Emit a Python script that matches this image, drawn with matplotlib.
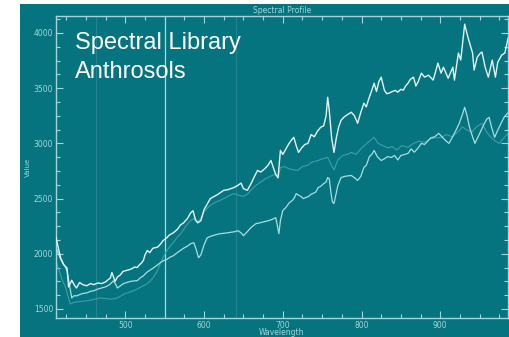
import matplotlib
matplotlib.use('Agg')
import matplotlib.pyplot as plt
from matplotlib.patches import Rectangle
from matplotlib.ticker import MultipleLocator

# spectra (wavelength, value)
wl_a = [412, 415, 418, 422, 426, 428, 432, 435, 438, 442, 446, 451, 456, 460, 465, 470, 475, 479, 481, 483,
        485, 487, 490, 494, 497, 502, 507, 512, 515, 518, 521, 523, 525, 528, 531, 535, 541, 545, 548, 552,
        556, 561, 566, 570, 574, 579, 583, 586, 589, 592, 596, 600, 604, 608, 613, 618, 622, 625, 630, 634,
        638, 643, 647, 650, 655, 660, 664, 668, 672, 677, 681, 685, 688, 691, 694, 697, 700, 704, 708, 711,
        714, 717, 720, 724, 728, 732, 736, 740, 744, 748, 752, 755, 757, 759, 762, 765, 768, 771, 774, 778,
        782, 787, 791, 795, 799, 803, 806, 809, 813, 816, 819, 822, 825, 829, 832, 835, 839, 843, 846, 850,
        853, 856, 859, 862, 866, 869, 872, 876, 880, 885, 891, 897, 901, 904, 910, 916, 918, 923, 926, 931,
        935, 941, 943, 947, 951, 953, 957, 961, 966, 970, 973, 978, 982, 986, 990]
val_a = [2150, 2050, 1960, 1900, 1870, 1700, 1760, 1720, 1690, 1740, 1720, 1710, 1730, 1720, 1735, 1730, 1745, 1770, 1780, 1830,
         1790, 1750, 1790, 1810, 1840, 1850, 1860, 1880, 1875, 1900, 1920, 1940, 1990, 2030, 2010, 2050, 2060, 2090, 2120, 2140,
         2170, 2190, 2220, 2260, 2280, 2320, 2370, 2390, 2310, 2280, 2300, 2400, 2450, 2500, 2520, 2540, 2560, 2575, 2580, 2590,
         2600, 2620, 2640, 2590, 2575, 2640, 2700, 2755, 2740, 2770, 2800, 2845, 2780, 2720, 2690, 2936, 2900, 2950, 3000, 3030,
         3055, 2980, 2918, 2960, 2990, 3000, 3080, 3060, 3110, 3145, 3160, 3250, 3418, 3300, 3050, 2918, 3050, 3150, 3209, 3240,
         3260, 3282, 3250, 3182, 3280, 3364, 3330, 3400, 3480, 3545, 3470, 3560, 3600, 3482, 3450, 3455, 3470, 3480, 3464, 3490,
         3482, 3520, 3545, 3580, 3600, 3520, 3560, 3636, 3600, 3618, 3573, 3727, 3636, 3690, 3590, 3690, 3573, 3818, 3755, 4080,
         3964, 3818, 3664, 3782, 3818, 3827, 3690, 3600, 3755, 3600, 3736, 3800, 3818, 3950, 4000]

wl_b = [412, 415, 418, 421, 424, 426, 428, 430, 432, 435, 438, 442, 446, 451, 456, 460, 465, 470, 475, 480,
        485, 488, 490, 494, 497, 502, 507, 512, 515, 519, 523, 527, 531, 536, 541, 545, 548, 553, 557, 561,
        566, 570, 574, 579, 583, 587, 590, 593, 596, 600, 604, 609, 614, 619, 625, 630, 635, 639, 643, 647,
        650, 655, 660, 666, 671, 676, 682, 686, 689, 691, 693, 695, 697, 700, 704, 708, 712, 715, 717, 720,
        723, 726, 729, 733, 736, 738, 742, 745, 748, 752, 755, 757, 759, 761, 763, 765, 767, 770, 774, 778,
        782, 787, 791, 795, 799, 803, 806, 810, 813, 816, 820, 825, 829, 833, 838, 842, 846, 850, 855, 859,
        863, 867, 872, 876, 880, 884, 888, 893, 898, 902, 906, 911, 915, 920, 924, 928, 931, 934, 937, 941,
        944, 948, 952, 956, 959, 962, 965, 969, 973, 977, 981, 985, 990]
val_b = [2055, 2000, 1950, 1909, 1880, 1845, 1760, 1680, 1600, 1620, 1618, 1630, 1640, 1645, 1660, 1665, 1680, 1690, 1700, 1720,
         1755, 1720, 1690, 1710, 1727, 1740, 1750, 1755, 1755, 1782, 1800, 1830, 1850, 1873, 1900, 1920, 1936, 1950, 1970, 1982,
         2010, 2030, 2050, 2070, 2091, 2100, 2040, 1964, 1990, 2080, 2145, 2160, 2170, 2180, 2185, 2190, 2195, 2200, 2209, 2190,
         2164, 2200, 2240, 2273, 2280, 2290, 2300, 2310, 2320, 2327, 2260, 2182, 2300, 2391, 2420, 2460, 2482, 2510, 2545, 2530,
         2520, 2500, 2509, 2520, 2540, 2545, 2560, 2600, 2610, 2636, 2650, 2690, 2680, 2560, 2470, 2455, 2520, 2620, 2690, 2700,
         2705, 2709, 2690, 2664, 2700, 2782, 2800, 2880, 2900, 2936, 2880, 2845, 2860, 2880, 2873, 2890, 2850, 2890, 2900, 2909,
         2950, 2920, 2960, 3000, 2990, 3020, 3050, 3060, 3091, 3060, 3030, 3000, 3050, 3120, 3180, 3260, 3327, 3250, 3150, 3060,
         3000, 3060, 3120, 3180, 3220, 3236, 3150, 3055, 3120, 3180, 3236, 3270, 3300]

wl_c = [412, 416, 420, 424, 427, 430, 435, 440, 446, 451, 456, 462, 468, 474, 480, 485, 490, 495, 500, 505,
        510, 515, 520, 526, 532, 537, 541, 545, 548, 552, 557, 562, 566, 570, 575, 579, 583, 587, 590, 594,
        600, 605, 610, 616, 622, 628, 633, 638, 642, 646, 650, 655, 660, 666, 672, 678, 684, 690, 694, 697,
        702, 708, 714, 719, 725, 731, 737, 743, 750, 757, 762, 765, 770, 776, 782, 787, 793, 799, 805, 810,
        816, 821, 827, 833, 839, 845, 851, 859, 866, 873, 880, 887, 894, 901, 908, 915, 922, 928, 934, 940,
        946, 953, 959, 965, 970, 975, 981, 987, 990]
val_c = [1936, 1850, 1760, 1700, 1620, 1545, 1560, 1565, 1570, 1573, 1580, 1590, 1600, 1595, 1590, 1590, 1600, 1620, 1640, 1650,
         1664, 1680, 1700, 1720, 1755, 1800, 1850, 1920, 1964, 2020, 2070, 2110, 2150, 2180, 2230, 2270, 2300, 2320, 2290, 2300,
         2380, 2420, 2450, 2470, 2490, 2510, 2530, 2545, 2535, 2527, 2520, 2540, 2580, 2620, 2650, 2680, 2700, 2720, 2680, 2782,
         2790, 2770, 2760, 2755, 2790, 2800, 2830, 2840, 2860, 2873, 2800, 2760, 2850, 2890, 2900, 2918, 2900, 2950, 2990, 3020,
         3055, 3000, 2980, 2960, 2970, 2940, 2980, 2964, 3000, 3020, 3010, 3040, 3050, 3055, 3080, 3060, 3100, 3150, 3120, 3100,
         3150, 3182, 3100, 3050, 3020, 3000, 3050, 3100, 3120]

cursor_wl = 550
band_wl = [463, 640]

teal = '#06747f'
axis_col = '#a3d6da'

fig = plt.figure(figsize=(5.1, 3.37), dpi=100)
fig.patch.set_facecolor('white')
# teal panel behind everything
fig.patches.append(Rectangle((20 / 510, 0), 490 / 510, 333 / 337, transform=fig.transFigure,
                             facecolor=teal, edgecolor='none', zorder=-10))

ax = fig.add_axes([56 / 510, 19 / 337, 452 / 510, 302 / 337])
ax.set_facecolor(teal)

for w in band_wl:
    ax.axvline(w, color='#23848e', lw=0.8, zorder=1)
ax.axvline(cursor_wl, color='#a8dade', lw=0.9, zorder=1)

ax.plot(wl_c, val_c, color='#3f9ea8', lw=0.8, zorder=2)
ax.plot(wl_b, val_b, color='#a8dde1', lw=0.9, zorder=3)
ax.plot(wl_a, val_a, color='#e4f3f3', lw=1.0, zorder=4)

ax.set_xlim(412, 986)
ax.set_ylim(1418, 4154)

ax.xaxis.set_major_locator(MultipleLocator(100))
ax.xaxis.set_minor_locator(MultipleLocator(25))
ax.yaxis.set_major_locator(MultipleLocator(500))
ax.yaxis.set_minor_locator(MultipleLocator(125))
ax.tick_params(which='both', direction='in', colors=axis_col, top=True, right=True,
               labelsize=5.5, width=0.8, pad=2)
ax.tick_params(which='major', length=5)
ax.tick_params(which='minor', length=3)
for s in ax.spines.values():
    s.set_color(axis_col)
    s.set_linewidth(1.0)

ax.set_title('Spectral Profile', color=axis_col, fontsize=5.5, pad=2)
ax.set_xlabel('Wavelength', color=axis_col, fontsize=5.5, labelpad=-1)
ax.set_ylabel('Value', color=axis_col, fontsize=5, labelpad=2)

fig.text(75 / 510, 1 - 49 / 337, 'Spectral Library', color='white', fontsize=17,
         family='Liberation Sans', va='baseline', ha='left')
fig.text(75 / 510, 1 - 78 / 337, 'Anthrosols', color='white', fontsize=17,
         family='Liberation Sans', va='baseline', ha='left')

fig.savefig('out.png', dpi=100, facecolor='white')
